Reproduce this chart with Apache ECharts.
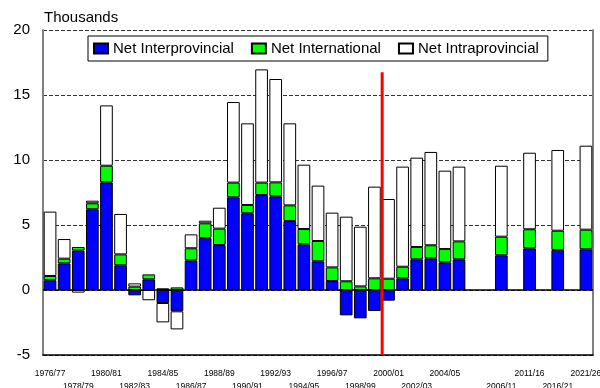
<!DOCTYPE html>
<html>
<head>
<meta charset="utf-8">
<script src="https://cdn.jsdelivr.net/npm/echarts@6/dist/echarts.min.js"></script>
<style>
  html, body { margin: 0; padding: 0; background: #fff; }
  #chart { width: 600px; height: 388px; }
</style>
</head>
<body>
<div id="chart"></div>
<script>
// Period labels: annual estimates, then five-year projection periods
const categories = [
  '1976/77','1977/78','1978/79','1979/80','1980/81','1981/82','1982/83','1983/84',
  '1984/85','1985/86','1986/87','1987/88','1988/89','1989/90','1990/91','1991/92',
  '1992/93','1993/94','1994/95','1995/96','1996/97','1997/98','1998/99','1999/00',
  '2000/01','2001/02','2002/03','2003/04','2004/05','2005/06',
  '', '', '2006/11', '', '2011/16', '', '2016/21', '', '2021/26'
];

// Net migration components (thousands)
const netInterprovincial = [
  0.75, 2.05, 3.03, 6.21, 8.28, 1.90, -0.41, 0.82,
  -1.00, -1.64, 2.28, 4.00, 3.46, 7.13, 5.90, 7.31,
  7.21, 5.31, 3.51, 2.21, 0.69, -1.95, -2.18, -1.62,
  -0.82, 0.90, 2.36, 2.44, 2.13, 2.36,
  null, null, 2.67, null, 3.21, null, 3.08, null, 3.13
];
const netInternational = [
  0.33, 0.36, 0.28, 0.46, 1.28, 0.84, 0.26, 0.38,
  0.13, 0.20, 0.93, 1.13, 1.26, 1.13, 0.64, 0.95,
  1.07, 1.20, 1.18, 1.56, 1.05, 0.67, 0.28, 0.90,
  0.87, 0.89, 0.95, 1.00, 1.02, 1.38,
  null, null, 1.43, null, 1.46, null, 1.48, null, 1.51
];
const netIntraprovincial = [
  4.95, 1.51, -0.20, 0.20, 4.64, 3.11, 0.25, -0.79,
  -1.49, -1.39, 1.07, 0.20, 1.61, 6.20, 6.28, 8.71,
  7.95, 6.31, 4.95, 4.26, 4.21, 4.97, 4.59, 7.05,
  6.13, 7.70, 6.87, 7.18, 6.03, 5.75,
  null, null, 5.46, null, 5.89, null, 6.21, null, 6.46
];

// Divider between historical and projected periods (category position, top value)
const dividerPosition = 23.55;
const dividerTop = 16.75;

const yMin = -5, yMax = 20, yStep = 5;

// Staggered labels: alternate rows among the labels that are actually shown
function labelRow(index) {
  let rank = 0;
  for (let i = 0; i < index; i += 2) {
    if (categories[i] !== '') rank++;
  }
  return rank % 2;
}
function rowFormatter(row) {
  return function (value, index) {
    if (!value) return '';
    return labelRow(index) === row ? value : '';
  };
}

const chart = echarts.init(document.getElementById('chart'), null, { renderer: 'canvas' });
const font = 'Liberation Sans, Arial, Helvetica, sans-serif';
const barBorder = { borderColor: '#000', borderWidth: 1 };

const periodLabel = {
  interval: 1,
  showMinLabel: true,
  showMaxLabel: true,
  color: '#000',
  fontFamily: font,
  fontSize: 8.5,
  lineHeight: 11,
  verticalAlign: 'top'
};

chart.setOption({
  animation: false,
  backgroundColor: '#fff',
  textStyle: { fontFamily: font, color: '#000' },
  title: {
    text: 'Thousands',
    left: 44, top: 10, padding: 0,
    textStyle: { fontSize: 15, fontWeight: 'normal', color: '#000', fontFamily: font }
  },
  legend: {
    data: ['Net Interprovincial', 'Net International', 'Net Intraprovincial'],
    left: 88, top: 36,
    padding: [5, 9, 5, 5],
    borderColor: '#000', borderWidth: 1,
    backgroundColor: '#fff',
    itemWidth: 14, itemHeight: 10, itemGap: 17,
    icon: 'rect',
    textStyle: { fontSize: 15, color: '#000', fontFamily: font }
  },
  grid: { left: 43, right: 7, top: 30, bottom: 33, outerBoundsMode: 'none', containLabel: false },
  xAxis: [
    {
      type: 'category',
      data: categories,
      position: 'bottom',
      boundaryGap: true,
      axisLine: { onZero: false, lineStyle: { color: '#000', width: 1.5 } },
      axisTick: { alignWithLabel: true, interval: 0, length: 4, lineStyle: { color: '#000' } },
      axisLabel: Object.assign({ margin: 13, formatter: rowFormatter(0) }, periodLabel),
      splitLine: { show: false }
    },
    {
      type: 'category',
      data: categories,
      position: 'bottom',
      boundaryGap: true,
      axisLine: { show: false, onZero: false },
      axisTick: { alignWithLabel: true, interval: 1, length: 8, lineStyle: { color: '#000' } },
      axisLabel: Object.assign({ margin: 26, formatter: rowFormatter(1) }, periodLabel),
      splitLine: { show: false }
    },
    {
      type: 'value',
      position: 'top',
      show: false,
      min: -0.5,
      max: categories.length - 0.5
    }
  ],
  yAxis: [
    {
      type: 'value',
      min: yMin, max: yMax, interval: yStep,
      axisLine: { show: true, onZero: false, lineStyle: { color: '#808080', width: 2 } },
      axisTick: { show: false },
      axisLabel: { fontSize: 15, color: '#000', margin: 13, fontFamily: font },
      splitLine: { show: true, lineStyle: { color: '#333', width: 1, type: [4, 2] } }
    },
    {
      type: 'value',
      position: 'right',
      min: yMin, max: yMax, interval: yStep,
      axisLine: { show: true, onZero: false, lineStyle: { color: '#808080', width: 2 } },
      axisTick: { show: false },
      axisLabel: { show: false },
      splitLine: { show: false }
    }
  ],
  series: [
    {
      name: 'Net Interprovincial',
      type: 'bar',
      stack: 'migration',
      xAxisIndex: 0, yAxisIndex: 0,
      barCategoryGap: '10%',
      itemStyle: Object.assign({ color: '#0000ff' }, barBorder),
      data: netInterprovincial,
      markLine: {
        silent: true,
        symbol: 'none',
        label: { show: false },
        lineStyle: { color: '#000', width: 1.5, type: 'solid' },
        data: [{ yAxis: 0 }]
      }
    },
    {
      name: 'Net International',
      type: 'bar',
      stack: 'migration',
      xAxisIndex: 0, yAxisIndex: 0,
      barCategoryGap: '10%',
      itemStyle: Object.assign({ color: '#00ff00' }, barBorder),
      data: netInternational
    },
    {
      name: 'Net Intraprovincial',
      type: 'bar',
      stack: 'migration',
      xAxisIndex: 0, yAxisIndex: 0,
      barCategoryGap: '10%',
      itemStyle: Object.assign({ color: '#ffffff' }, barBorder),
      data: netIntraprovincial
    },
    {
      name: 'Projection divider',
      type: 'line',
      xAxisIndex: 2, yAxisIndex: 0,
      symbol: 'none',
      silent: true,
      z: 5,
      lineStyle: { color: '#ff0000', width: 3 },
      data: [[dividerPosition, yMin], [dividerPosition, dividerTop]]
    }
  ]
});
</script>
</body>
</html>
